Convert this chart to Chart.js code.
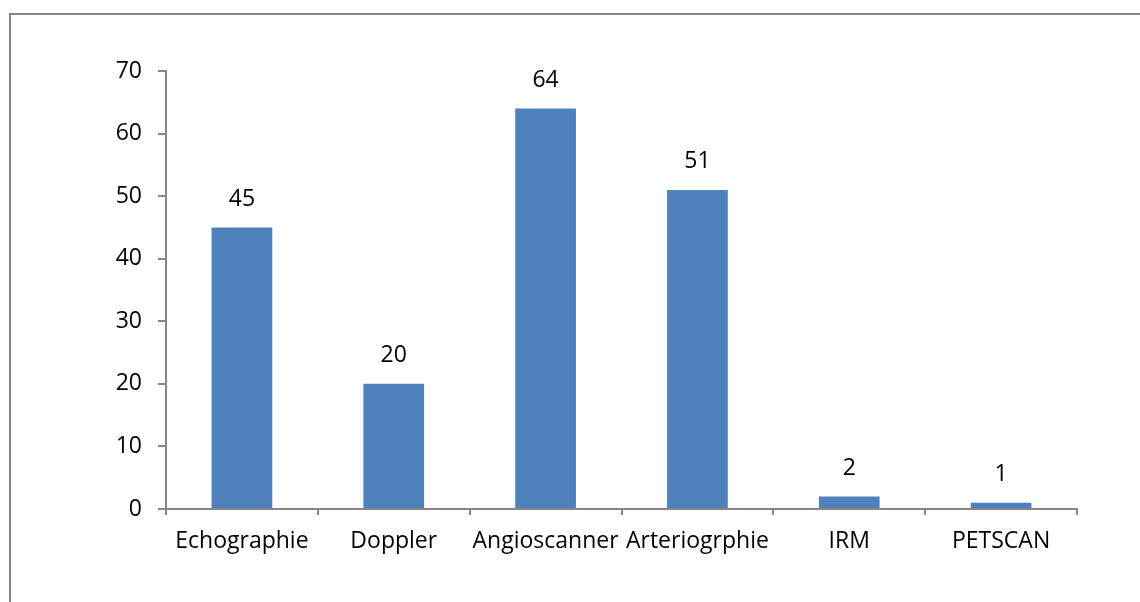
<!DOCTYPE html>
<html><head><meta charset="utf-8">
<script src="https://cdn.jsdelivr.net/npm/chart.js@4/dist/chart.umd.min.js"></script>
<style>html,body{margin:0;padding:0;background:#fff;}#wrap{position:relative;width:1140px;height:602px;}</style>
</head><body><div id="wrap"><canvas id="c" width="1140" height="602"></canvas></div>
<script>
const categories = ["Echographie","Doppler","Angioscanner","Arteriogrphie","IRM","PETSCAN"];
const values = [45,20,64,51,2,1];
const yTicks = [0,10,20,30,40,50,60,70];

const FONT = "'Open Sans', 'Liberation Sans', sans-serif";
const FS = 23;
const axisColor = '#868686';

const frame = {
  id:'frame',
  beforeDraw(chart){
    const c = chart.ctx; c.save();
    c.strokeStyle = axisColor; c.lineWidth = 2;
    c.strokeRect(10, 14, 1200, 700);
    c.restore();
  }
};
const valueLabels = {
  id:'valueLabels',
  afterDatasetsDraw(chart){
    const c = chart.ctx; c.save();
    c.font = FS + 'px ' + FONT; c.fillStyle = '#000'; c.textAlign='center'; c.textBaseline='middle';
    const meta = chart.getDatasetMeta(0);
    meta.data.forEach((bar,i)=>{ c.fillText(String(values[i]), bar.x, bar.y - 28); });
    c.restore();
  }
};

new Chart(document.getElementById('c'), {
  type:'bar',
  data:{ labels:categories, datasets:[{ data:values, backgroundColor:'#4F81BD', barPercentage:0.4, categoryPercentage:1.0 }]},
  options:{
    responsive:false, animation:false, devicePixelRatio:1,
    layout:{ padding:{ left:0, top:71, right:63, bottom:0 } },
    plugins:{ legend:{display:false}, tooltip:{enabled:false} },
    scales:{
      x:{
        offset:true,
        grid:{ display:true, offset:true, drawOnChartArea:false, drawTicks:true, tickLength:6, color:axisColor, lineWidth:2 },
        border:{ display:true, color:axisColor, width:2 },
        ticks:{ color:'#000', font:{ family:FONT, size:FS }, padding:13, maxRotation:0, autoSkip:false },
        afterFit(s){ s.height = 93; }
      },
      y:{
        min:0, max:70,
        afterBuildTicks(s){ s.ticks = yTicks.map(v=>({value:v})); },
        grid:{ display:true, drawOnChartArea:false, drawTicks:true, tickLength:8, color:axisColor, lineWidth:2 },
        border:{ display:true, color:axisColor, width:2 },
        ticks:{ color:'#000', font:{ family:FONT, size:FS }, padding:16 },
        afterFit(s){ s.width = 166; }
      }
    }
  },
  plugins:[frame, valueLabels]
});
</script></body></html>
